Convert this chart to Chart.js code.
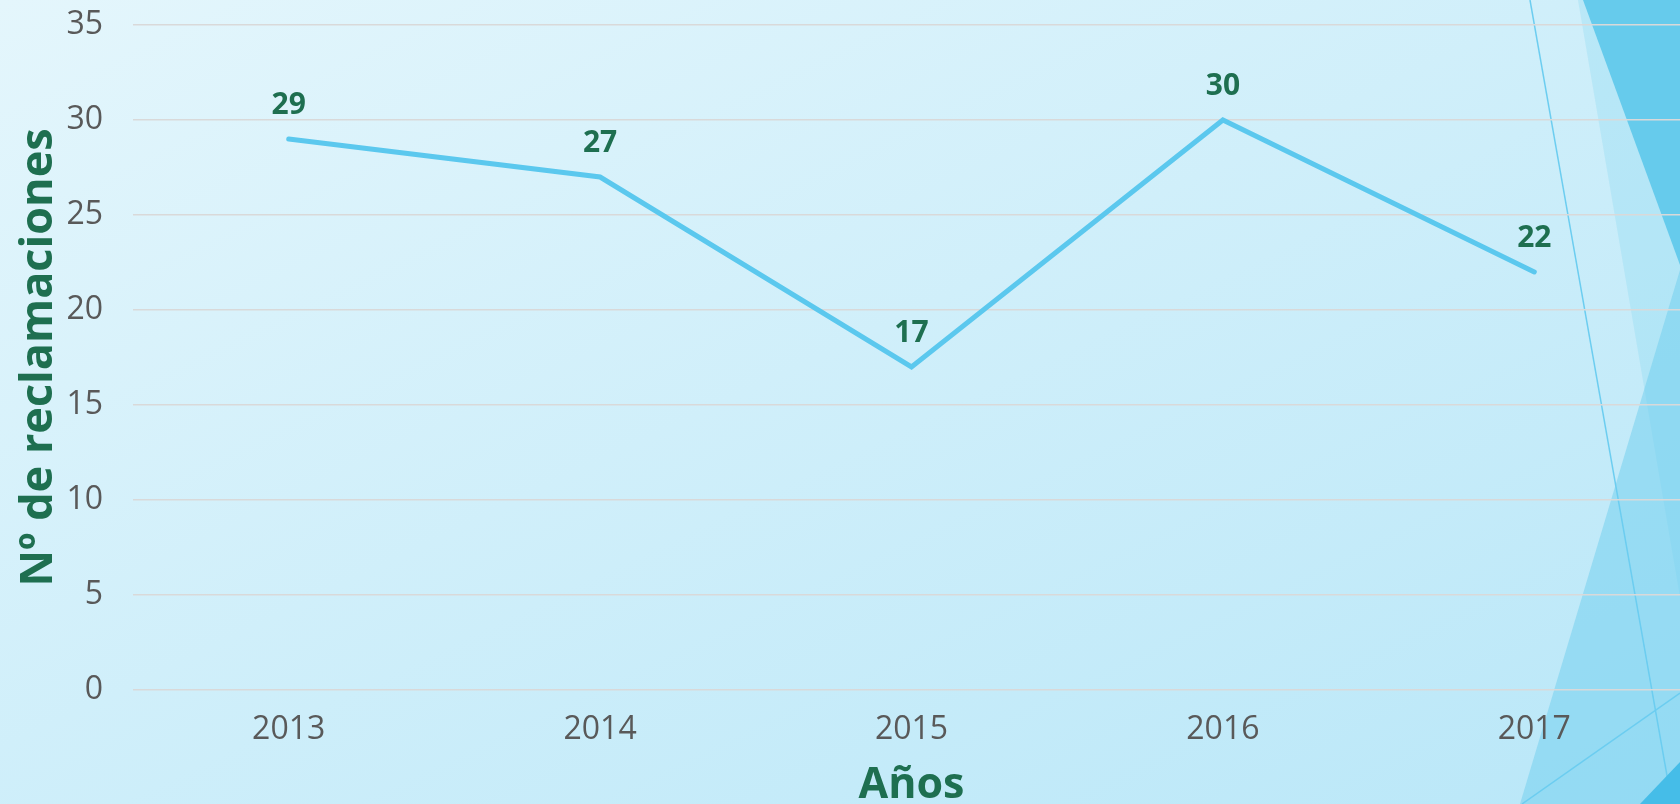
<!DOCTYPE html>
<html><head><meta charset="utf-8">
<script src="https://cdn.jsdelivr.net/npm/chart.js@4"></script>
<style>
html,body{margin:0;padding:0;overflow:hidden;width:1680px;height:804px;background:#d0eef9;}
#bg{position:absolute;left:0;top:0;}
#wrap{position:absolute;left:0;top:0;width:1690px;height:804px;}
</style></head><body>
<svg id="bg" width="1680" height="804" xmlns="http://www.w3.org/2000/svg">
  <defs>
    <linearGradient id="g" x1="0" y1="0" x2="1" y2="1">
      <stop offset="0" stop-color="#e4f6fc"/>
      <stop offset="1" stop-color="#b9e7f8"/>
    </linearGradient>
  </defs>
  <rect x="0" y="0" width="1680" height="804" fill="url(#g)"/>
  <polygon points="1578,0 1680,0 1680,597" fill="rgba(120,210,240,0.25)"/>
  <polygon points="1583,0 1680,0 1680,265" fill="#66cbec"/>
  <polygon points="1680,270 1680,804 1520,804" fill="rgba(110,205,238,0.5)"/>
  <line x1="1530" y1="0" x2="1672" y2="804" stroke="#6ccdf0" stroke-width="1.5"/>
  <line x1="1522" y1="804" x2="1680" y2="693" stroke="#6ccdf0" stroke-width="1.5"/>
  <polygon points="1640,804 1680,804 1680,762" fill="#45bde8"/>
</svg>
<div id="wrap"><canvas id="c" width="1690" height="804"></canvas></div>
<script>
const categories = ['2013', '2014', '2015', '2016', '2017'];
const reclamaciones = [29, 27, 17, 30, 22];
const yTicks = [0, 5, 10, 15, 20, 25, 30, 35];
const xTitle = 'Años';
const yTitle = 'Nº de reclamaciones';

const green = '#1e6f50';
const gray = '#595959';

const valueLabels = {
  id: 'valueLabels',
  afterDatasetsDraw(chart) {
    const ctx = chart.ctx;
    const meta = chart.getDatasetMeta(0);
    const data = chart.data.datasets[0].data;
    ctx.save();
    ctx.font = 'bold 30px "Open Sans"';
    ctx.fillStyle = green;
    ctx.textAlign = 'center';
    ctx.textBaseline = 'middle';
    meta.data.forEach((pt, i) => {
      ctx.fillText(String(data[i]), pt.x, pt.y - 34);
    });
    ctx.restore();
  }
};

new Chart(document.getElementById('c'), {
  type: 'line',
  data: {
    labels: categories,
    datasets: [{
      data: reclamaciones,
      borderColor: '#5bc8ee',
      borderWidth: 5,
      borderCapStyle: 'round',
      borderJoinStyle: 'miter',
      pointRadius: 0,
      pointHoverRadius: 0,
      tension: 0,
      fill: false
    }]
  },
  options: {
    responsive: false,
    animation: false,
    devicePixelRatio: 1,
    layout: { padding: { top: 25, left: 0, right: 0, bottom: 0 } },
    plugins: { legend: { display: false }, tooltip: { enabled: false } },
    scales: {
      x: {
        offset: true,
        grid: { display: false, drawTicks: false },
        border: { display: false },
        ticks: { color: gray, font: { family: 'Open Sans', size: 32 }, padding: 21 },
        title: { display: true, text: xTitle, color: green,
                 font: { family: 'Open Sans', size: 43, weight: 'bold', lineHeight: 0.85 },
                 padding: { top: 0, bottom: 0 } },
        afterFit(scale) { scale.height = 114; scale.paddingLeft = 0; scale.paddingRight = 0; }
      },
      y: {
        min: 0, max: 35,
        afterBuildTicks(scale) { scale.ticks = yTicks.map(v => ({ value: v })); },
        grid: { color: '#d9d9d9', lineWidth: 1.5, drawTicks: false },
        border: { display: false },
        ticks: { color: gray, font: { family: 'Open Sans', size: 32 }, padding: 30 },
        title: { display: true, text: yTitle, color: green,
                 font: { family: 'Open Sans', size: 45, weight: 'bold', lineHeight: 1.2 },
                 padding: { top: 12, bottom: 0 } },
        afterFit(scale) { scale.width = 133; scale.paddingTop = 0; scale.paddingBottom = 0; }
      }
    }
  },
  plugins: [valueLabels]
});
</script>
</body></html>
